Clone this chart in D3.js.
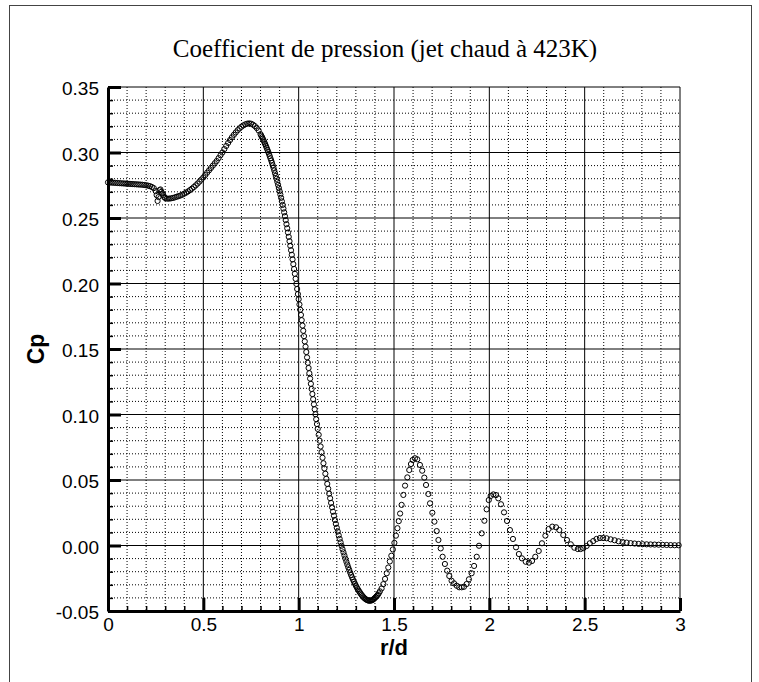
<!DOCTYPE html>
<html>
<head>
<meta charset="utf-8">
<script src="https://cdn.jsdelivr.net/npm/d3@7"></script>
<style>
  body { margin: 0; background: #fff; }
  svg { display: block; }
  .tick text { font-family: "Liberation Sans", Arial, sans-serif; font-size: 19px; fill: #000; }
</style>
</head>
<body>
<div id="chart"></div>
<script>
// tick values / labels
const xTicks = [0, 0.5, 1, 1.5, 2, 2.5, 3];
const xTickLabels = ["0", "0.5", "1", "1.5", "2", "2.5", "3"];
const yTicks = [-0.05, 0, 0.05, 0.1, 0.15, 0.2, 0.25, 0.3, 0.35];
const yTickLabels = ["-0.05", "0.00", "0.05", "0.10", "0.15", "0.20", "0.25", "0.30", "0.35"];
const xMinor = [0.1, 0.2, 0.3, 0.4, 0.6, 0.7, 0.8, 0.9, 1.1, 1.2, 1.3, 1.4, 1.6, 1.7, 1.8, 1.9,
  2.1, 2.2, 2.3, 2.4, 2.6, 2.7, 2.8, 2.9];
const yMinor = [-0.04, -0.03, -0.02, -0.01, 0.01, 0.02, 0.03, 0.04, 0.06, 0.07, 0.08, 0.09,
  0.11, 0.12, 0.13, 0.14, 0.16, 0.17, 0.18, 0.19, 0.21, 0.22, 0.23, 0.24,
  0.26, 0.27, 0.28, 0.29, 0.31, 0.32, 0.33, 0.34];

// Cp(r/d), [r/d, Cp]
const jetCore = [
  [0.00, 0.2772], [0.01, 0.2771], [0.02, 0.2770], [0.03, 0.2769], [0.04, 0.2768], [0.05, 0.2767],
  [0.06, 0.2766], [0.07, 0.2765], [0.08, 0.2764], [0.09, 0.2763], [0.10, 0.2762], [0.11, 0.2761],
  [0.12, 0.2760], [0.13, 0.2759], [0.14, 0.2758], [0.15, 0.2757], [0.16, 0.2756], [0.17, 0.2755],
  [0.18, 0.2754], [0.19, 0.2752], [0.20, 0.2750], [0.21, 0.2747], [0.22, 0.2743], [0.23, 0.2737],
  [0.24, 0.2728], [0.25, 0.2705], [0.255, 0.2675], [0.26, 0.2630], [0.265, 0.2660], [0.27, 0.2712],
  [0.275, 0.2718], [0.28, 0.2700], [0.285, 0.2688], [0.29, 0.2675], [0.295, 0.2660], [0.30, 0.2652],
  [0.31, 0.2648], [0.32, 0.2648], [0.33, 0.2650], [0.34, 0.2653], [0.35, 0.2657], [0.36, 0.2662],
  [0.37, 0.2667], [0.38, 0.2672], [0.39, 0.2678], [0.40, 0.2686], [0.41, 0.2694], [0.42, 0.2703],
  [0.43, 0.2713], [0.44, 0.2724], [0.45, 0.2736], [0.46, 0.2749], [0.47, 0.2763], [0.48, 0.2778],
  [0.49, 0.2794], [0.50, 0.2810], [0.51, 0.2828], [0.52, 0.2846], [0.53, 0.2864], [0.54, 0.2882],
  [0.55, 0.2900], [0.56, 0.2918], [0.57, 0.2935], [0.58, 0.2957], [0.59, 0.2979], [0.60, 0.3000],
  [0.61, 0.3026], [0.62, 0.3050], [0.63, 0.3073], [0.64, 0.3095], [0.65, 0.3116], [0.66, 0.3135],
  [0.67, 0.3153], [0.68, 0.3170], [0.69, 0.3184], [0.70, 0.3197], [0.71, 0.3207], [0.72, 0.3215],
  [0.73, 0.3220], [0.74, 0.3222], [0.75, 0.3220], [0.76, 0.3213], [0.77, 0.3202], [0.78, 0.3187],
  [0.79, 0.3168], [0.80, 0.3140]
];

const dropOff = [
  [0.804, 0.3128], [0.808, 0.3117], [0.812, 0.3105], [0.816, 0.3092], [0.820, 0.3079], [0.824, 0.3065],
  [0.828, 0.3051], [0.832, 0.3036], [0.836, 0.3021], [0.840, 0.3006], [0.844, 0.2990], [0.848, 0.2973],
  [0.852, 0.2956], [0.856, 0.2939], [0.860, 0.2921], [0.864, 0.2902], [0.868, 0.2883], [0.872, 0.2863],
  [0.876, 0.2842], [0.880, 0.2821], [0.884, 0.2799], [0.888, 0.2776], [0.892, 0.2753], [0.896, 0.2729],
  [0.900, 0.2705], [0.904, 0.2679], [0.908, 0.2654], [0.912, 0.2627], [0.916, 0.2600], [0.920, 0.2572],
  [0.924, 0.2543], [0.928, 0.2514], [0.932, 0.2484], [0.936, 0.2453], [0.940, 0.2422], [0.944, 0.2389],
  [0.948, 0.2356], [0.952, 0.2323], [0.956, 0.2288], [0.960, 0.2254], [0.964, 0.2219], [0.968, 0.2184],
  [0.972, 0.2148], [0.976, 0.2111], [0.980, 0.2074], [0.984, 0.2036], [0.988, 0.1997], [0.992, 0.1958],
  [0.996, 0.1919], [1.000, 0.1880], [1.004, 0.1840], [1.008, 0.1800], [1.012, 0.1760], [1.016, 0.1720],
  [1.020, 0.1679], [1.024, 0.1639], [1.028, 0.1598], [1.032, 0.1558], [1.036, 0.1518], [1.040, 0.1477],
  [1.044, 0.1436], [1.048, 0.1395], [1.052, 0.1355], [1.056, 0.1315], [1.060, 0.1274], [1.064, 0.1234],
  [1.068, 0.1195], [1.072, 0.1156], [1.076, 0.1117], [1.080, 0.1078], [1.084, 0.1040], [1.088, 0.1002],
  [1.092, 0.0964], [1.096, 0.0927], [1.100, 0.0890]
];

const firstTrough = [
  [1.105, 0.0845], [1.110, 0.0800], [1.115, 0.0756], [1.120, 0.0712], [1.125, 0.0670], [1.130, 0.0628],
  [1.135, 0.0588], [1.140, 0.0548], [1.145, 0.0509], [1.150, 0.0470], [1.155, 0.0433], [1.160, 0.0396],
  [1.165, 0.0361], [1.170, 0.0325], [1.175, 0.0292], [1.180, 0.0258], [1.185, 0.0227], [1.190, 0.0195],
  [1.195, 0.0165], [1.200, 0.0135], [1.205, 0.0107], [1.210, 0.0078], [1.215, 0.0051], [1.220, 0.0024],
  [1.225, -0.0002], [1.230, -0.0028], [1.235, -0.0052], [1.240, -0.0076], [1.245, -0.0100], [1.250, -0.0123],
  [1.255, -0.0145], [1.260, -0.0166], [1.265, -0.0186], [1.270, -0.0206], [1.275, -0.0225], [1.280, -0.0243],
  [1.285, -0.0260], [1.290, -0.0276], [1.295, -0.0291], [1.300, -0.0306], [1.305, -0.0320], [1.310, -0.0333],
  [1.315, -0.0345], [1.320, -0.0356], [1.325, -0.0367], [1.330, -0.0377], [1.335, -0.0386], [1.340, -0.0395],
  [1.345, -0.0402], [1.350, -0.0408], [1.355, -0.0413], [1.360, -0.0417], [1.365, -0.0420], [1.370, -0.0421],
  [1.375, -0.0421], [1.380, -0.0420], [1.385, -0.0417], [1.390, -0.0413], [1.395, -0.0407], [1.400, -0.0400],
  [1.405, -0.0393], [1.410, -0.0385], [1.415, -0.0376], [1.420, -0.0365]
];

const ripples = [
  [1.426, -0.0350], [1.435, -0.0328], [1.444, -0.0295], [1.453, -0.0255], [1.462, -0.0212], [1.470, -0.0168],
  [1.478, -0.0122], [1.486, -0.0078], [1.494, -0.0030], [1.502, 0.0020], [1.510, 0.0075], [1.518, 0.0132],
  [1.525, 0.0186], [1.532, 0.0244], [1.540, 0.0310], [1.549, 0.0386], [1.558, 0.0457], [1.570, 0.0520],
  [1.580, 0.0576], [1.589, 0.0622], [1.598, 0.0653], [1.610, 0.0666], [1.622, 0.0658], [1.636, 0.0615],
  [1.648, 0.0571], [1.659, 0.0518], [1.668, 0.0462], [1.680, 0.0393], [1.689, 0.0322], [1.701, 0.0250],
  [1.712, 0.0182], [1.724, 0.0110], [1.733, 0.0042], [1.745, -0.0022], [1.755, -0.0086], [1.767, -0.0141],
  [1.779, -0.0192], [1.790, -0.0233], [1.802, -0.0269], [1.815, -0.0289], [1.829, -0.0307], [1.842, -0.0319],
  [1.855, -0.0319], [1.867, -0.0315], [1.881, -0.0294], [1.893, -0.0258], [1.907, -0.0212], [1.920, -0.0156],
  [1.934, -0.0086], [1.946, -0.0002], [1.960, 0.0093], [1.974, 0.0189], [1.986, 0.0276], [1.997, 0.0347],
  [2.007, 0.0378], [2.021, 0.0390], [2.035, 0.0385], [2.047, 0.0360], [2.061, 0.0315], [2.077, 0.0253],
  [2.093, 0.0187], [2.108, 0.0118], [2.124, 0.0050], [2.140, -0.0014], [2.155, -0.0065], [2.171, -0.0098],
  [2.191, -0.0124], [2.208, -0.0131], [2.224, -0.0118], [2.241, -0.0086], [2.259, -0.0042], [2.276, 0.0017],
  [2.294, 0.0075], [2.311, 0.0126], [2.330, 0.0144], [2.350, 0.0139], [2.367, 0.0118], [2.388, 0.0080],
  [2.407, 0.0042], [2.427, 0.0009], [2.446, -0.0017], [2.464, -0.0027], [2.479, -0.0027], [2.493, -0.0020]
];

const tail = [
  [2.510, -0.0004], [2.527, 0.0017], [2.545, 0.0034], [2.562, 0.0050], [2.580, 0.0057], [2.597, 0.0057],
  [2.615, 0.0055], [2.636, 0.0047], [2.657, 0.0040], [2.678, 0.0032], [2.699, 0.0027], [2.720, 0.0022],
  [2.741, 0.0018], [2.762, 0.0015], [2.783, 0.0012], [2.804, 0.0010], [2.825, 0.0009], [2.846, 0.0008],
  [2.867, 0.0007], [2.888, 0.0006], [2.909, 0.0005], [2.930, 0.0004], [2.951, 0.0003], [2.972, 0.0002],
  [2.993, 0.0002]
];

const W = 759, H = 682;
const margin = { top: 87, right: 79, bottom: 71, left: 108 };
const width = W - margin.left - margin.right;
const height = H - margin.top - margin.bottom;

const svg = d3.select("#chart")
  .append("svg")
  .attr("width", W)
  .attr("height", H);

// outer frame
svg.append("rect")
  .attr("x", 9.5)
  .attr("y", 5.5)
  .attr("width", 742)
  .attr("height", 700)
  .attr("fill", "none")
  .attr("stroke", "#444")
  .attr("stroke-width", 1);

svg.append("text")
  .attr("x", 385)
  .attr("y", 57)
  .attr("text-anchor", "middle")
  .attr("font-family", "'Liberation Serif', 'Times New Roman', serif")
  .attr("font-size", 25)
  .text("Coefficient de pression (jet chaud à 423K)");

const g = svg.append("g")
  .attr("transform", `translate(${margin.left},${margin.top})`);

const x = d3.scaleLinear().domain([0, 3]).range([0, width]);
const y = d3.scaleLinear().domain([-0.05, 0.35]).range([height, 0]);

// minor dotted grid
g.append("g")
  .selectAll("line")
  .data(xMinor)
  .enter()
  .append("line")
  .attr("x1", d => x(d))
  .attr("x2", d => x(d))
  .attr("y1", 0)
  .attr("y2", height)
  .attr("stroke", "#000")
  .attr("stroke-width", 1)
  .attr("stroke-dasharray", "1,2");

g.append("g")
  .selectAll("line")
  .data(yMinor)
  .enter()
  .append("line")
  .attr("x1", 0)
  .attr("x2", width)
  .attr("y1", d => y(d))
  .attr("y2", d => y(d))
  .attr("stroke", "#000")
  .attr("stroke-width", 1)
  .attr("stroke-dasharray", "1,2");

// major solid grid
g.append("g")
  .selectAll("line")
  .data(xTicks.slice(1))
  .enter()
  .append("line")
  .attr("x1", d => x(d))
  .attr("x2", d => x(d))
  .attr("y1", 0)
  .attr("y2", height)
  .attr("stroke", "#000")
  .attr("stroke-width", 1);

g.append("g")
  .selectAll("line")
  .data(yTicks.slice(1))
  .enter()
  .append("line")
  .attr("x1", 0)
  .attr("x2", width)
  .attr("y1", d => y(d))
  .attr("y2", d => y(d))
  .attr("stroke", "#000")
  .attr("stroke-width", 1);

// minor ticks (inward)
g.append("g")
  .attr("transform", `translate(0,${height})`)
  .call(d3.axisBottom(x).tickValues(xMinor).tickSizeInner(-5).tickSizeOuter(0).tickFormat(""))
  .call(a => a.select(".domain").remove())
  .selectAll("line").attr("stroke-width", 1.5);

g.append("g")
  .call(d3.axisLeft(y).tickValues(yMinor).tickSizeInner(-5).tickSizeOuter(0).tickFormat(""))
  .call(a => a.select(".domain").remove())
  .selectAll("line").attr("stroke-width", 1.5);

// major axes
const xAxis = g.append("g")
  .attr("transform", `translate(0,${height})`)
  .call(d3.axisBottom(x).tickValues(xTicks).tickSizeInner(-13).tickSizeOuter(0).tickPadding(7)
    .tickFormat((d, i) => xTickLabels[i]));
xAxis.select(".domain").attr("stroke-width", 3);
xAxis.selectAll(".tick line").attr("stroke-width", 3);

const yAxis = g.append("g")
  .call(d3.axisLeft(y).tickValues(yTicks).tickSizeInner(-13).tickSizeOuter(0).tickPadding(9)
    .tickFormat((d, i) => yTickLabels[i]));
yAxis.select(".domain").attr("stroke-width", 3);
yAxis.selectAll(".tick line").attr("stroke-width", 3);
yAxis.selectAll(".tick text").attr("dy", "0.42em");

// axis titles
g.append("text")
  .attr("x", width / 2)
  .attr("y", height + 44)
  .attr("text-anchor", "middle")
  .attr("font-family", "'Liberation Sans', Arial, sans-serif")
  .attr("font-weight", "bold")
  .attr("font-size", 22)
  .text("r/d");

g.append("text")
  .attr("transform", `translate(${44 - margin.left},${height / 2}) rotate(-90)`)
  .attr("text-anchor", "middle")
  .attr("font-family", "'Liberation Sans', Arial, sans-serif")
  .attr("font-weight", "bold")
  .attr("font-size", 23)
  .text("Cp");

// data symbols
const allPoints = [].concat(jetCore, dropOff, firstTrough, ripples, tail);
g.append("g")
  .selectAll("circle")
  .data(allPoints)
  .enter()
  .append("circle")
  .attr("cx", d => x(d[0]))
  .attr("cy", d => y(d[1]))
  .attr("r", 2.6)
  .attr("fill", "none")
  .attr("stroke", "#000")
  .attr("stroke-width", 1);
</script>
</body>
</html>
